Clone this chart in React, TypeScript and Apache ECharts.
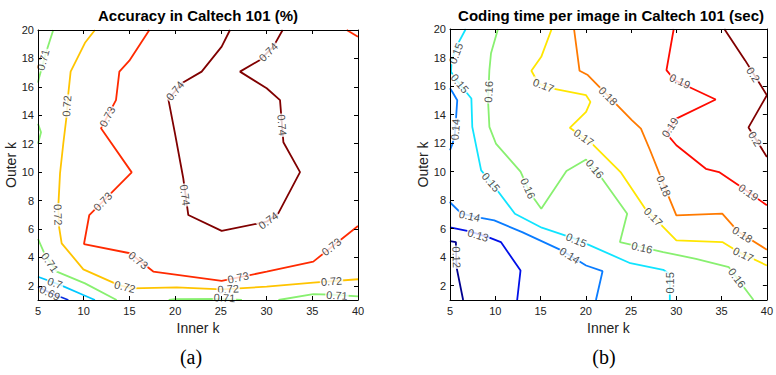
import React, { useEffect, useRef } from 'react';
import * as echarts from 'echarts';

// ---------- axis ticks ----------
const xTicks = [5, 10, 15, 20, 25, 30, 35, 40];
const yTicks = [2, 4, 6, 8, 10, 12, 14, 16, 18, 20];

// ---------- (a) Accuracy contours: [inner k, outer k] ----------
const acc071Top = [[6.67, 20], [5.87, 18.4], [5.14, 16.7], [5, 16.3]];
const acc071Bump = [[5, 13.4], [5.33, 12.8], [5, 12.0]];
const acc072 = [[11.23, 20], [10.14, 19.1], [8.57, 17.07], [8.32, 15.55], [8.14, 14.0], [7.77, 12.03], [7.41, 9.92], [7.22, 7.57], [7.3, 6.16], [7.59, 4.99], [9.96, 3.16], [13.78, 2.06], [15.25, 1.82], [20.17, 1.89], [25.09, 1.75], [30.01, 1.94], [35.11, 2.22], [40, 2.46]];
const acc073 = [[17.18, 20], [14.99, 17.84], [13.9, 17.07], [13.53, 15.07], [11.89, 13.08], [15.25, 9.98], [10.61, 6.98], [10.03, 4.94], [15.06, 4.29], [17.61, 3.0], [25.09, 2.34], [30.01, 3.0], [35.11, 3.7], [40, 6.21]];
const acc073Corner = [[38.76, 20], [40, 19.53]];
const acc074 = [[26.0, 20], [25.09, 18.83], [22.9, 17.07], [20.72, 16.25], [19.26, 15.12], [19.98, 12.73], [20.72, 10.15], [20.89, 9.56], [21.44, 6.98], [25.09, 5.86], [30.01, 6.51], [31.28, 7.1], [33.66, 10.0], [31.84, 12.1], [31.47, 15.07], [30.01, 15.9], [27.09, 17.07], [29.28, 17.89], [30.74, 18.83], [31.76, 20]];
const acc071Low = [[5, 5.3], [5.14, 5.1], [5.77, 4.17], [7.05, 3.0], [10.14, 2.17], [13.6, 1.0]];
const acc070 = [[5, 2.65], [5.14, 2.6], [7.41, 2.06], [9.96, 1.35], [11.23, 1.0]];
const acc069 = [[5, 1.95], [5.14, 1.89], [6.31, 1.51], [8.32, 1.0]];
const acc071Mid = [[19.3, 1.0], [20, 1.06], [25, 1.08], [27.3, 1.0]];
const acc071Right = [[31.3, 1.0], [35.1, 1.42], [37.3, 1.37], [40, 1.26]];

const accLevels = ['0.69', '0.7', '0.71', '0.72', '0.73', '0.74'];
const accContours: [string, number[][]][] = [
  ['0.71', acc071Top], ['0.71', acc071Bump], ['0.72', acc072], ['0.73', acc073],
  ['0.73', acc073Corner], ['0.74', acc074], ['0.71', acc071Low], ['0.7', acc070],
  ['0.69', acc069], ['0.71', acc071Mid], ['0.71', acc071Right],
];
const accLabels: [string, number, number][] = [
  ['0.71', 5.55, 17.9], ['0.72', 8.14, 14.65], ['0.73', 12.58, 13.9], ['0.74', 19.98, 15.72],
  ['0.74', 30.19, 18.45], ['0.74', 31.7, 13.3], ['0.72', 7.2, 7.0], ['0.73', 12.08, 7.93],
  ['0.74', 21.1, 8.39], ['0.74', 30.19, 6.6], ['0.71', 6.31, 3.65], ['0.7', 6.86, 2.19],
  ['0.69', 6.3, 1.5], ['0.73', 15.97, 3.8], ['0.72', 14.5, 1.94], ['0.73', 26.9, 2.58],
  ['0.72', 25.8, 1.78], ['0.71', 25.4, 1.15], ['0.72', 37.1, 2.32], ['0.71', 37.7, 1.33],
  ['0.73', 37.1, 4.75],
];

// ---------- (b) Coding time contours ----------
const t015 = [[6.74, 20], [5.9, 18.99], [5.18, 17.82], [5.11, 17.0], [5.72, 16.41], [7.36, 15.13], [7.46, 13.14], [8.44, 10.09], [9.53, 9.27], [12.17, 7.05], [15.14, 6.07], [18.77, 5.3], [24.92, 3.58], [28.55, 3.12], [29.28, 2.8], [29.28, 1.0]];
const t014Top = [[5, 15.85], [5.25, 15.6], [5.8, 15.0], [5.65, 13.6], [5.54, 12.67], [5.29, 11.97], [5, 11.5]];
const t014 = [[5, 7.9], [5.07, 7.8], [6.27, 7.05], [8.26, 6.77], [9.89, 6.58], [12.97, 5.76], [17.32, 4.48], [20.03, 3.42], [21.85, 3.02], [21.12, 1.0]];
const t013 = [[5, 6.1], [7.17, 5.81], [9.35, 5.37], [10.62, 5.06], [12.79, 3.07], [12.42, 1.0]];
const t012 = [[5, 5.13], [5.65, 5.06], [5.72, 3.3], [6.45, 1.0]];
const t016 = [[10.3, 20], [9.53, 18.3], [9.35, 17.12], [9.2, 15.0], [9.35, 13.14], [10.07, 11.97], [12.79, 10.0], [13.88, 8.46], [15.08, 7.4], [17.86, 10.05], [20.03, 10.85], [21.67, 9.62], [24.57, 7.05], [23.77, 5.06], [28.55, 4.36], [32.17, 3.89], [35.8, 3.3], [38.52, 1.0]];
const t017 = [[16.23, 20], [15.08, 18.05], [13.99, 17.07], [14.78, 16.18], [16.23, 15.83], [20.03, 15.36], [20.51, 14.89], [20.03, 14.19], [18.23, 13.07], [20.68, 11.97], [23.84, 9.97], [26.56, 7.4], [30.0, 5.18], [35.08, 5.06], [36.88, 4.36], [40, 3.42]];
const t018 = [[18.7, 20], [19.31, 17.07], [20.22, 16.77], [25.11, 13.6], [26.09, 13.02], [27.1, 11.5], [29.09, 8.34], [30.0, 6.93], [35.07, 7.05], [36.88, 5.76], [40, 4.53]];
const t019 = [[29.71, 20], [28.91, 17.12], [29.82, 16.41], [34.35, 15.06], [30.0, 13.72], [28.91, 12.67], [30.0, 11.85], [33.26, 10.2], [34.71, 9.97], [36.88, 9.04], [40, 7.64]];
const t020 = [[35.3, 20], [37.6, 17.8], [40, 15.36], [37.97, 13.1], [40, 11.03]];

const timeLevels = ['0.12', '0.13', '0.14', '0.15', '0.16', '0.17', '0.18', '0.19', '0.2'];
const timeContours: [string, number[][]][] = [
  ['0.15', t015], ['0.14', t014Top], ['0.14', t014], ['0.13', t013], ['0.12', t012],
  ['0.16', t016], ['0.17', t017], ['0.18', t018], ['0.19', t019], ['0.2', t020],
];
const timeLabels: [string, number, number][] = [
  ['0.15', 5.65, 18.29], ['0.15', 6.09, 16.18], ['0.14', 5.58, 12.95], ['0.16', 9.25, 15.6],
  ['0.17', 15.33, 16.05], ['0.18', 22.46, 15.3], ['0.19', 30.4, 16.35], ['0.19', 29.3, 13.1],
  ['0.17', 19.78, 12.4], ['0.16', 21.0, 10.2], ['0.15', 9.53, 9.27], ['0.16', 13.62, 8.83],
  ['0.18', 28.6, 9.0], ['0.17', 27.47, 6.83], ['0.19', 37.97, 8.55], ['0.14', 7.17, 6.9],
  ['0.13', 8.1, 5.55], ['0.12', 5.72, 4.0], ['0.15', 18.95, 5.2], ['0.14', 18.23, 4.12],
  ['0.16', 26.2, 4.68], ['0.15', 29.28, 2.2], ['0.18', 37.3, 5.6], ['0.17', 37.4, 4.2],
  ['0.16', 36.7, 2.54], ['0.2', 38.5, 16.8], ['0.2', 38.7, 12.3],
];

// ---------- styles ----------
const accColors = ['#0a2ee0', '#00c8ff', '#88f070', '#ffc400', '#ff2a00', '#800000'];
const timeColors = ['#00008f', '#0010e8', '#0a7cff', '#10e4ff', '#88f070', '#ffe600', '#ff7a00', '#ff0a00', '#800000'];
const FONT = "'Liberation Sans', Arial, Helvetica, sans-serif";
const INK = '#222';

function axesFor(gridIndex: number) {
  const line = { show: true, onZero: false, lineStyle: { color: '#000', width: 1 } };
  const tick = { show: true, inside: true, length: 4, lineStyle: { color: '#000' } };
  const lbl = { fontSize: 11, color: INK, fontFamily: FONT };
  const x = [
    {
      type: 'value', gridIndex, position: 'bottom', min: 5, max: 40, interval: 5,
      axisLine: line, axisTick: tick, splitLine: { show: false },
      axisLabel: { ...lbl, margin: 5, showMaxLabel: true, showMinLabel: true },
      name: 'Inner k', nameLocation: 'middle', nameGap: 16,
      nameTextStyle: { fontSize: 14, color: INK, fontFamily: FONT }, z: 10,
    },
    {
      type: 'value', gridIndex, position: 'top', min: 5, max: 40, interval: 5,
      axisLine: line, axisTick: tick, splitLine: { show: false }, axisLabel: { show: false }, z: 10,
    },
  ];
  const y = [
    {
      type: 'value', gridIndex, position: 'left', min: 1, max: 20,
      axisLine: line, axisTick: { ...tick, customValues: yTicks }, splitLine: { show: false },
      axisLabel: { ...lbl, margin: 4, customValues: yTicks },
      name: 'Outer k', nameLocation: 'middle', nameGap: 18,
      nameTextStyle: { fontSize: 14, color: INK, fontFamily: FONT }, z: 10,
    },
    {
      type: 'value', gridIndex, position: 'right', min: 1, max: 20,
      axisLine: line, axisTick: { ...tick, customValues: yTicks }, splitLine: { show: false },
      axisLabel: { show: false, customValues: yTicks }, z: 10,
    },
  ];
  return { x, y };
}

function lineSeries(contours: [string, number[][]][], levels: string[], colors: string[], ax: number) {
  return contours.map(([lvl, pts]) => ({
    type: 'line', xAxisIndex: ax, yAxisIndex: ax, data: pts, symbol: 'none', showSymbol: false,
    lineStyle: { color: colors[levels.indexOf(lvl)], width: 1.8 }, z: 2, silent: true, clip: true,
  }));
}

function labelSeries(labels: [string, number, number][], angles: number[], ax: number) {
  return {
    type: 'scatter', xAxisIndex: ax, yAxisIndex: ax, symbolSize: 1, silent: true,
    itemStyle: { color: 'rgba(0,0,0,0)' }, z: 5,
    data: labels.map(([t, x, y], i) => ({ value: [x, y, t], label: { rotate: angles[i] || 0 } })),
    label: {
      show: true, position: 'inside', formatter: (p: any) => p.value[2],
      fontSize: 11, color: INK, fontFamily: FONT, backgroundColor: '#fff', padding: [0, 1], lineHeight: 11,
    },
  };
}

function computeAngles(chart: any, contours: [string, number[][]][], labels: [string, number, number][], ax: number) {
  const finder = { xAxisIndex: ax, yAxisIndex: ax };
  return labels.map(([t, x, y]) => {
    const p = chart.convertToPixel(finder, [x, y]);
    let best = Infinity;
    let ang = 0;
    contours.forEach(([lvl, pts]) => {
      if (lvl !== t) return;
      for (let i = 0; i < pts.length - 1; i++) {
        const a = chart.convertToPixel(finder, pts[i]);
        const b = chart.convertToPixel(finder, pts[i + 1]);
        const dx = b[0] - a[0], dy = b[1] - a[1];
        const len2 = dx * dx + dy * dy || 1;
        let u = ((p[0] - a[0]) * dx + (p[1] - a[1]) * dy) / len2;
        u = Math.max(0, Math.min(1, u));
        const cx = a[0] + u * dx, cy = a[1] + u * dy;
        const d = Math.hypot(p[0] - cx, p[1] - cy);
        if (d < best) {
          best = d;
          ang = (Math.atan2(-dy, dx) * 180) / Math.PI;
        }
      }
    });
    while (ang > 90) ang -= 180;
    while (ang <= -90) ang += 180;
    return ang;
  });
}

export default function App() {
  const ref = useRef<HTMLDivElement>(null);
  useEffect(() => {
    if (!ref.current) return;
    const chart = echarts.init(ref.current, null, { renderer: 'svg' });
    const A = axesFor(0);
    const B = axesFor(1);
    const base: any = {
      animation: false,
      backgroundColor: '#fff',
      grid: [
        { left: 38, top: 30, width: 320, height: 270 },
        { left: 450, top: 29, width: 322, height: 271 },
      ],
      xAxis: [...A.x, ...B.x],
      yAxis: [...A.y, ...B.y],
      graphic: [
        { type: 'text', x: 198, y: 15, style: { text: 'Accuracy in Caltech 101 (%)', fontSize: 15, fontWeight: 'bold', fontFamily: FONT, fill: '#000', align: 'center', verticalAlign: 'middle' } },
        { type: 'text', x: 611, y: 15, style: { text: 'Coding time per image in Caltech 101 (sec)', fontSize: 15, fontWeight: 'bold', fontFamily: FONT, fill: '#000', align: 'center', verticalAlign: 'middle' } },
        { type: 'text', x: 191, y: 357, style: { text: '(a)', fontSize: 20, fontFamily: "'Liberation Serif', 'Times New Roman', serif", fill: '#000', align: 'center', verticalAlign: 'middle' } },
        { type: 'text', x: 604, y: 357, style: { text: '(b)', fontSize: 20, fontFamily: "'Liberation Serif', 'Times New Roman', serif", fill: '#000', align: 'center', verticalAlign: 'middle' } },
      ],
      series: [
        ...lineSeries(accContours, accLevels, accColors, 0),
        ...lineSeries(timeContours, timeLevels, timeColors, 2),
      ],
    };
    chart.setOption(base);
    const angA = computeAngles(chart, accContours, accLabels, 0);
    const angB = computeAngles(chart, timeContours, timeLabels, 2);
    chart.setOption({
      ...base,
      series: [
        ...base.series,
        labelSeries(accLabels, angA, 0),
        labelSeries(timeLabels, angB, 2),
      ],
    });
    return () => chart.dispose();
  }, []);
  return (
    <div
      ref={ref}
      style={{ position: 'fixed', left: 0, top: 0, width: 776, height: 375, background: '#fff' }}
    />
  );
}
